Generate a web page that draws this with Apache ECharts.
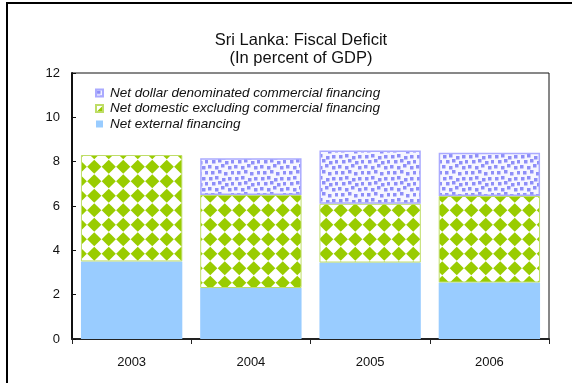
<!DOCTYPE html>
<html>
<head>
<meta charset="utf-8">
<script src="https://cdn.jsdelivr.net/npm/echarts@6/dist/echarts.min.js"></script>
<style>
  html, body { margin: 0; padding: 0; background: #fff; }
  #chart { width: 572px; height: 383px; }
</style>
</head>
<body>
<div id="chart"></div>
<script>
// Sri Lanka fiscal deficit financing, percent of GDP
const years = ['2003', '2004', '2005', '2006'];
const netExternal = [3.5, 2.3, 3.45, 2.55];
const netDomestic = [4.8, 4.2, 2.65, 3.9];
const netDollarCommercial = [null, 1.65, 2.4, 1.95];
const yTicks = [0, 2, 4, 6, 8, 10, 12];

const FONT = '"Liberation Sans", Arial, sans-serif';

// Green diamond fill: a 45-degree checker of green diamonds on white
function diamondPattern() {
  const s = 29, h = s / 2, r = 7.1;
  const c = document.createElement('canvas');
  c.width = s; c.height = s;
  const g = c.getContext('2d');
  g.fillStyle = '#ffffff';
  g.fillRect(0, 0, s, s);
  g.fillStyle = '#99cc00';
  const centres = [[h / 2, h / 2], [h * 1.5, h / 2], [h / 2, h * 1.5], [h * 1.5, h * 1.5]];
  centres.forEach(([x, y]) => {
    g.beginPath();
    g.moveTo(x, y - r); g.lineTo(x + r, y); g.lineTo(x, y + r); g.lineTo(x - r, y);
    g.closePath(); g.fill();
  });
  return c;
}

// Lavender fill: small scattered squares on a pale ground
function dotPattern() {
  const w = 26, hgt = 22;
  const c = document.createElement('canvas');
  c.width = w; c.height = hgt;
  const g = c.getContext('2d');
  g.fillStyle = '#f6f6ff';
  g.fillRect(0, 0, w, hgt);
  g.fillStyle = '#8e8ef8';
  const spots = [
    [1, 1], [7, 0], [14, 2], [20, 1],
    [4, 6], [10, 5], [17, 7], [23, 6],
    [0, 11], [7, 12], [13, 10], [20, 12],
    [3, 17], [10, 16], [16, 18], [23, 17]
  ];
  spots.forEach(([x, y]) => g.fillRect(x, y, 3.5, 3.5));
  return c;
}

const greenFill = { image: diamondPattern(), repeat: 'repeat' };
const dotFill = { image: dotPattern(), repeat: 'repeat' };

const chart = echarts.init(document.getElementById('chart'), null, { renderer: 'canvas' });

chart.setOption({
  animation: false,
  backgroundColor: '#ffffff',
  textStyle: { fontFamily: FONT },
  graphic: [{
    type: 'rect',
    shape: { x: 7, y: 3, width: 600, height: 420 },
    style: { fill: 'none', stroke: '#000', lineWidth: 2 },
    silent: true,
    z: -1
  }],
  title: {
    text: 'Sri Lanka: Fiscal Deficit\n(In percent of GDP)',
    left: 296,
    top: 27,
    textAlign: 'center',
    textStyle: {
      fontFamily: FONT,
      fontSize: 16.5,
      fontWeight: 'normal',
      color: '#111',
      lineHeight: 17.5
    }
  },
  legend: {
    orient: 'vertical',
    left: 95,
    top: 86,
    padding: 0,
    itemWidth: 7,
    itemHeight: 7,
    itemGap: 1.5,
    icon: 'rect',
    data: ['Net dollar denominated commercial financing',
           'Net domestic excluding commercial financing',
           'Net external financing'],
    textStyle: {
      fontFamily: FONT,
      fontSize: 13.5,
      fontStyle: 'italic',
      color: '#111',
      padding: [0, 0, 0, 2]
    }
  },
  grid: {
    left: 72,
    right: 23,
    top: 73,
    bottom: 44,
    show: true,
    borderColor: '#111',
    borderWidth: 1,
    backgroundColor: 'transparent'
  },
  xAxis: {
    type: 'category',
    data: years,
    axisLine: { lineStyle: { color: '#222', width: 2 } },
    axisTick: { show: true, length: 5, inside: false, lineStyle: { color: '#222', width: 1 } },
    axisLabel: { fontFamily: FONT, fontSize: 13, color: '#111', margin: 17 }
  },
  yAxis: {
    type: 'value',
    min: yTicks[0],
    max: yTicks[yTicks.length - 1],
    interval: yTicks[1] - yTicks[0],
    splitLine: { show: false },
    axisLine: { show: true, lineStyle: { color: '#111', width: 2 } },
    axisTick: { show: true, inside: true, length: 4, lineStyle: { color: '#111' } },
    axisLabel: { fontFamily: FONT, fontSize: 13, color: '#111', margin: 12 }
  },
  series: [
    {
      name: 'Net external financing',
      type: 'bar',
      stack: 'total',
      barWidth: '85%',
      data: netExternal,
      itemStyle: { color: '#99ccff' }
    },
    {
      name: 'Net domestic excluding commercial financing',
      type: 'bar',
      stack: 'total',
      barWidth: '85%',
      data: netDomestic,
      itemStyle: { color: greenFill, borderColor: '#bedd66', borderWidth: 1 }
    },
    {
      name: 'Net dollar denominated commercial financing',
      type: 'bar',
      stack: 'total',
      barWidth: '85%',
      data: netDollarCommercial,
      itemStyle: { color: dotFill, borderColor: '#aaaaff', borderWidth: 1.5 }
    }
  ]
});
</script>
</body>
</html>
